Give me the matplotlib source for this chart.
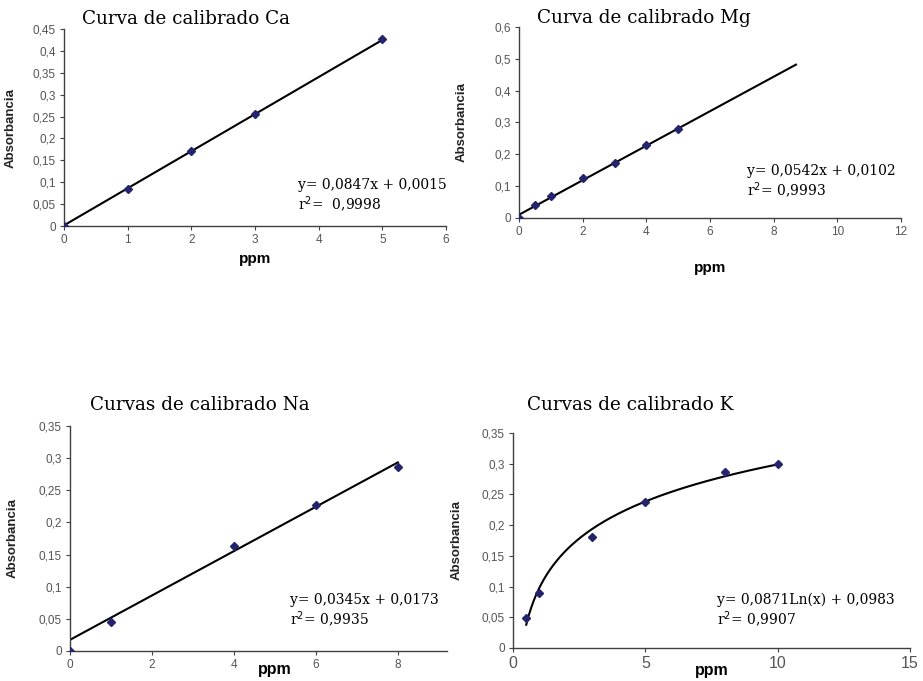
import matplotlib
matplotlib.use("Agg")
import matplotlib.pyplot as plt
import numpy as np

# Calibration standards (ppm) and measured absorbance
ca_ppm = [0, 1, 2, 3, 5]
ca_abs = [0.0, 0.085, 0.171, 0.255, 0.428]
ca_slope, ca_icpt = 0.0847, 0.0015

mg_ppm = [0, 0.5, 1, 2, 3, 4, 5]
mg_abs = [0.0, 0.042, 0.068, 0.125, 0.173, 0.228, 0.280]
mg_slope, mg_icpt = 0.0542, 0.0102
mg_fit_end = 8.7

na_ppm = [0, 1, 4, 6, 8]
na_abs = [0.0, 0.045, 0.164, 0.227, 0.286]
na_slope, na_icpt = 0.0345, 0.0173

k_ppm = [0.5, 1, 3, 5, 8, 10]
k_abs = [0.048, 0.089, 0.180, 0.237, 0.287, 0.300]
k_coef, k_icpt = 0.0871, 0.0983

ca_yticks = [0, 0.05, 0.1, 0.15, 0.2, 0.25, 0.3, 0.35, 0.4, 0.45]
mg_yticks = [0, 0.1, 0.2, 0.3, 0.4, 0.5, 0.6]
nak_yticks = [0, 0.05, 0.1, 0.15, 0.2, 0.25, 0.3, 0.35]

SERIF = "DejaVu Serif"
SANS = "Liberation Sans"
MARK = "#24246e"
TICK_GREY = "#555555"


def comma(v):
    return f"{v:g}".replace(".", ",")


def style_axes(ax, xticks, yticks, xlim, ylim, xtick_size=8.5):
    ax.set_xlim(*xlim)
    ax.set_ylim(*ylim)
    for side in ("top", "right"):
        ax.spines[side].set_visible(False)
    for side in ("left", "bottom"):
        ax.spines[side].set_color("#404040")
        ax.spines[side].set_linewidth(1.0)
    ax.set_xticks(xticks)
    ax.set_xticklabels([comma(t) for t in xticks], fontsize=xtick_size,
                       family=SANS, color=TICK_GREY)
    ax.set_yticks(yticks)
    ax.set_yticklabels([comma(t) for t in yticks], fontsize=8.5,
                       family=SANS, color=TICK_GREY)
    ax.tick_params(direction="out", length=3, width=0.8, color="#404040", pad=3)
    ax.set_ylabel("Absorbancia", fontsize=9.5, family=SANS, fontweight="bold",
                  color="#222222")


def draw_points(ax, x, y):
    ax.plot(x, y, linestyle="none", marker="D", markersize=4,
            color=MARK, zorder=3)


def fit_label(ax, x, y, text):
    ax.text(x, y, text, transform=ax.transAxes, family=SERIF, fontsize=10,
            va="center", linespacing=1.2)


def panel_title(x, y, text):
    fig.text(x, y, text, family=SERIF, fontsize=13.2, va="center")


fig = plt.figure(figsize=(9.23, 6.81), dpi=100)

# Calcium
ax = fig.add_axes([0.0693, 0.6681, 0.4139, 0.2893])
xs = np.array([0, 5])
ax.plot(xs, ca_slope * xs + ca_icpt, color="black", linewidth=1.5)
draw_points(ax, ca_ppm, ca_abs)
style_axes(ax, [0, 1, 2, 3, 4, 5, 6], ca_yticks, (0, 6), (0, 0.45))
ax.set_xlabel("ppm", fontsize=11, family=SANS, fontweight="bold", labelpad=4)
ax.yaxis.set_label_coords(-0.123, 0.5)
panel_title(0.089, 0.972, "Curva de calibrado Ca")
fit_label(ax, 0.612, 0.149, "y= 0,0847x + 0,0015\nr$^2$=  0,9998")

# Magnesium
ax = fig.add_axes([0.5623, 0.6799, 0.4139, 0.2805])
xs = np.array([0, mg_fit_end])
ax.plot(xs, mg_slope * xs + mg_icpt, color="black", linewidth=1.5)
draw_points(ax, mg_ppm, mg_abs)
style_axes(ax, [0, 2, 4, 6, 8, 10, 12], mg_yticks, (0, 12), (0, 0.6))
ax.set_xlabel("ppm", fontsize=11, family=SANS, fontweight="bold", labelpad=16)
ax.yaxis.set_label_coords(-0.134, 0.5)
panel_title(0.582, 0.974, "Curva de calibrado Mg")
fit_label(ax, 0.597, 0.184, "y= 0,0542x + 0,0102\nr$^2$= 0,9993")

# Sodium
ax = fig.add_axes([0.0758, 0.0441, 0.4085, 0.3304])
xs = np.array([0, 8])
ax.plot(xs, na_slope * xs + na_icpt, color="black", linewidth=1.5)
draw_points(ax, na_ppm, na_abs)
style_axes(ax, [0, 2, 4, 6, 8], nak_yticks, (0, 9.2), (0, 0.35))
ax.set_xlabel("ppm", fontsize=11.5, family=SANS, fontweight="bold")
ax.xaxis.set_label_coords(0.544, -0.05)
ax.yaxis.set_label_coords(-0.135, 0.5)
panel_title(0.098, 0.405, "Curvas de calibrado Na")
fit_label(ax, 0.584, 0.177, "y= 0,0345x + 0,0173\nr$^2$= 0,9935")

# Potassium (logarithmic fit)
ax = fig.add_axes([0.5558, 0.0485, 0.4301, 0.3157])
xs = np.linspace(min(k_ppm), max(k_ppm), 200)
ax.plot(xs, k_coef * np.log(xs) + k_icpt, color="black", linewidth=1.5)
draw_points(ax, k_ppm, k_abs)
style_axes(ax, [0, 5, 10, 15], nak_yticks, (0, 15), (0, 0.35), xtick_size=11.5)
ax.set_xlabel("ppm", fontsize=11.5, family=SANS, fontweight="bold")
ax.xaxis.set_label_coords(0.501, -0.07)
ax.yaxis.set_label_coords(-0.126, 0.5)
panel_title(0.571, 0.405, "Curvas de calibrado K")
fit_label(ax, 0.515, 0.17, "y= 0,0871Ln(x) + 0,0983\nr$^2$= 0,9907")

fig.savefig("out.png", dpi=100)
